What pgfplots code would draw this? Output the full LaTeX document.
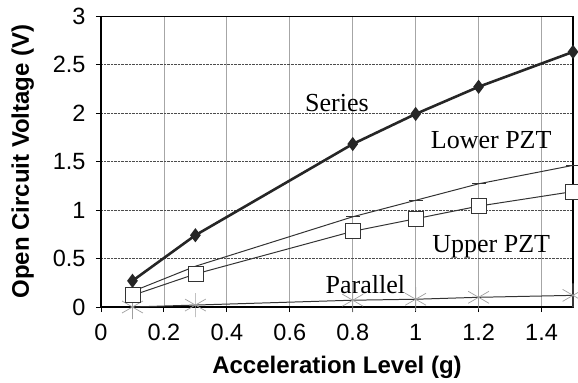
\documentclass[border=0pt]{standalone}
\usepackage{pgfplots}
\pgfplotsset{compat=1.18}
\usepackage{fontspec}
\setmainfont{Liberation Sans}
\newfontfamily\serifann{Liberation Serif}

% open-circuit voltage vs acceleration level
\pgfplotstableread{
x     y
0.1   0.27
0.3   0.74
0.8   1.68
1.0   1.99
1.2   2.27
1.5   2.63
}\seriesdata
\pgfplotstableread{
x     y
0.1   0.16
0.3   0.42
0.8   0.93
1.0   1.10
1.2   1.27
1.5   1.46
}\lowerdata
\pgfplotstableread{
x     y
0.1   0.12
0.3   0.34
0.8   0.78
1.0   0.91
1.2   1.04
1.5   1.19
}\upperdata
\pgfplotstableread{
x     y
0.1   0.00
0.3   0.02
0.8   0.07
1.0   0.08
1.2   0.10
1.5   0.12
}\paralleldata

\begin{document}
\begin{tikzpicture}
\begin{axis}[
  scale only axis,
  width=472bp, height=291bp,
  xmin=0, xmax=1.5, ymin=0, ymax=3,
  xtick={0,0.2,...,1.4},
  ytick={0,0.5,...,3},
  xticklabels={0,0.2,0.4,0.6,0.8,1,1.2,1.4},
  yticklabels={0,0.5,1,1.5,2,2.5,3},
  tick align=outside,
  major tick length=5bp,
  xtick pos=bottom, ytick pos=left,
  tick style={black, line width=1pt},
  axis line style={black, line width=1pt},
  grid=major,
  x grid style={gray!70, line width=0.8pt},
  y grid style={black!70, densely dotted, line width=0.6pt},
  tick label style={font=\fontsize{23.5bp}{26bp}\selectfont},
  xticklabel style={yshift=-9bp},
  yticklabel style={xshift=-7bp},
  /pgf/number format/assume math mode=true,
  xlabel={\bfseries Acceleration Level (g)},
  ylabel={\bfseries Open Circuit Voltage (V)},
  label style={font=\fontsize{24bp}{28bp}\selectfont},
  xlabel style={yshift=-8bp},
  ylabel style={yshift=12bp},
  clip=false,
]
% frame: heavier left, bottom and right edges
\draw[black, line width=1.8pt] (rel axis cs:0,1) -- (rel axis cs:0,0) -- (rel axis cs:1,0) -- (rel axis cs:1,1);

\addplot[black!80, line width=1pt, mark=asterisk, mark size=12bp,
  mark options={gray!75, line width=0.7pt}] table {\paralleldata};
\addplot[black!80, line width=1pt, mark=-, mark size=7bp,
  mark options={black!80, line width=1pt}] table {\lowerdata};
\addplot[black!80, line width=1pt, mark=square*, mark size=7.5bp,
  mark options={fill=white, draw=black!80, line width=0.8pt}] table {\upperdata};
\addplot[black!85, line width=2.6pt, mark=diamond*, mark size=5bp,
  mark options={fill=black!85}] table {\seriesdata};

\node[font=\serifann\fontsize{26bp}{30bp}\selectfont] at (axis cs:0.75,2.1) {Series};
\node[font=\serifann\fontsize{26bp}{30bp}\selectfont] at (axis cs:1.24,1.72) {Lower PZT};
\node[font=\serifann\fontsize{26bp}{30bp}\selectfont] at (axis cs:1.24,0.62) {Upper PZT};
\node[font=\serifann\fontsize{26bp}{30bp}\selectfont] at (axis cs:0.84,0.23) {Parallel};
\end{axis}
\pgfresetboundingbox
\path[use as bounding box] (-101bp,-76bp) rectangle (477bp,307bp);
\end{tikzpicture}
\end{document}
